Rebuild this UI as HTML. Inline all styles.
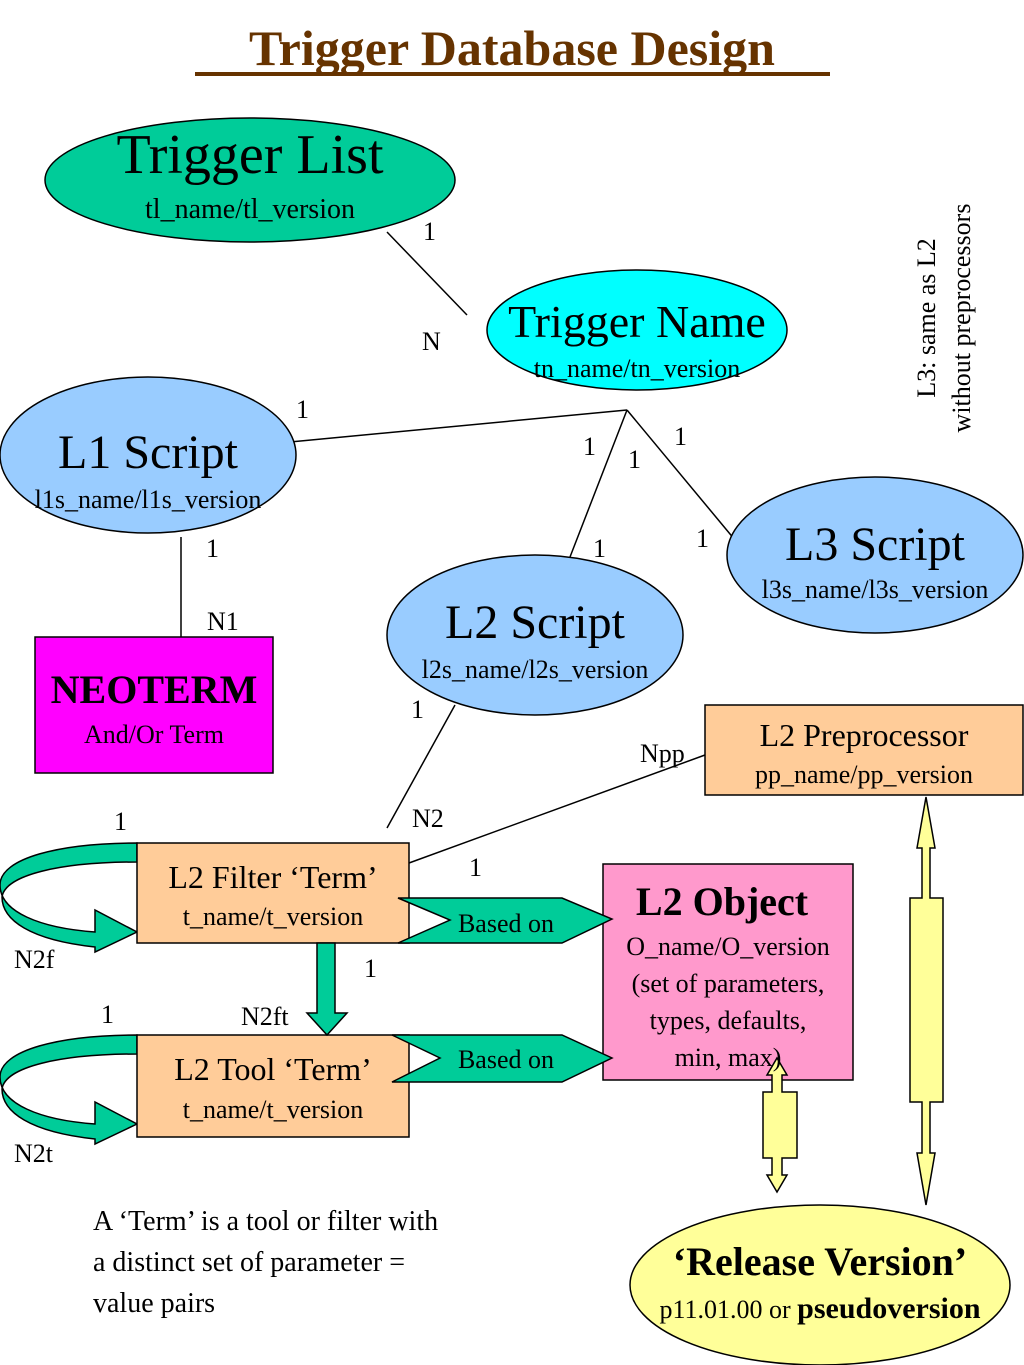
<!DOCTYPE html>
<html><head><meta charset="utf-8"><style>body{margin:0;background:#fff}svg{display:block}text{font-family:"Liberation Serif",serif}</style></head><body>
<svg width="1024" height="1365" viewBox="0 0 1024 1365" xmlns="http://www.w3.org/2000/svg">
<text x="512" y="65" font-size="50" font-weight="bold" fill="#663300" text-anchor="middle">Trigger Database Design</text>
<rect x="195" y="72" width="635" height="4" fill="#663300"/>
<g stroke="#000" stroke-width="1.5" fill="none">
<line x1="387" y1="232" x2="467" y2="315"/>
<line x1="627" y1="410" x2="290" y2="442"/>
<line x1="627" y1="410" x2="570" y2="557"/>
<line x1="627" y1="410" x2="735" y2="540"/>
<line x1="181" y1="537" x2="181" y2="637"/>
<line x1="455" y1="705" x2="387" y2="828"/>
<line x1="409" y1="863" x2="705" y2="755"/>
</g>
<g stroke="#000" stroke-width="1.5">
<ellipse cx="250" cy="180" rx="205" ry="62" fill="#00cc99"/>
<ellipse cx="637" cy="330" rx="150" ry="60" fill="#00ffff"/>
<ellipse cx="148" cy="455" rx="148" ry="78" fill="#99ccff"/>
<ellipse cx="875" cy="555" rx="148" ry="78" fill="#99ccff"/>
<ellipse cx="535" cy="635" rx="148" ry="80" fill="#99ccff"/>
<rect x="35" y="637" width="238" height="136" fill="#ff00ff"/>
<rect x="705" y="705" width="318" height="90" fill="#ffcc99"/>
<rect x="603" y="864" width="250" height="216" fill="#ff99cc"/>
<ellipse cx="820" cy="1285" rx="190" ry="80" fill="#ffff99"/>
<!-- curved loops -->
<path d="M137,843 C60,843 0,858 0,885 C0,912 40,928 95,932 L95,910 L137,932 L95,952 L95,947 C30,940 2,920 2,897 C5,875 60,862 137,862 Z" fill="#00cc99"/>
<path d="M137,1035 C60,1035 0,1050 0,1077 C0,1104 40,1120 95,1124 L95,1102 L137,1124 L95,1144 L95,1139 C30,1132 2,1112 2,1089 C5,1067 60,1054 137,1054 Z" fill="#00cc99"/>
<rect x="137" y="843" width="272" height="100" fill="#ffcc99"/>
<rect x="137" y="1035" width="272" height="102" fill="#ffcc99"/>
<polygon points="398,898 562,898 612,919 562,943 398,943 450,920" fill="#00cc99"/>
<polygon points="392,1035 562,1035 612,1058 562,1082 392,1082 440,1058" fill="#00cc99"/>
<polygon points="317,943 335,943 335,1013 347,1013 327,1035 307,1013 317,1013" fill="#00cc99"/>
<polygon points="777,1058 787,1075 782,1075 782,1092 797,1092 797,1158 782,1158 782,1175 787,1175 777,1192 767,1175 772,1175 772,1158 763,1158 763,1092 772,1092 772,1075 767,1075" fill="#ffff99"/>
<polygon points="926,797 935,848 930,848 930,898 943,898 943,1102 930,1102 930,1153 935,1153 926,1205 917,1153 922,1153 922,1102 910,1102 910,898 922,898 922,848 917,848" fill="#ffff99"/>
</g>
<g text-anchor="middle" fill="#000">
<text x="250" y="173" font-size="56">Trigger List</text>
<text x="250" y="218" font-size="28">tl_name/tl_version</text>
<text x="637" y="337" font-size="46">Trigger Name</text>
<text x="637" y="377" font-size="26">tn_name/tn_version</text>
<text x="148" y="468" font-size="48">L1 Script</text>
<text x="148" y="508" font-size="26">l1s_name/l1s_version</text>
<text x="875" y="560" font-size="48">L3 Script</text>
<text x="875" y="598" font-size="26">l3s_name/l3s_version</text>
<text x="535" y="638" font-size="48">L2 Script</text>
<text x="535" y="678" font-size="26">l2s_name/l2s_version</text>
<text x="154" y="703" font-size="40" font-weight="bold">NEOTERM</text>
<text x="154" y="743" font-size="26">And/Or Term</text>
<text x="864" y="746" font-size="32">L2 Preprocessor</text>
<text x="864" y="783" font-size="26">pp_name/pp_version</text>
<text x="273" y="888" font-size="32">L2 Filter ‘Term’</text>
<text x="273" y="925" font-size="26">t_name/t_version</text>
<text x="273" y="1080" font-size="32">L2 Tool ‘Term’</text>
<text x="273" y="1118" font-size="26">t_name/t_version</text>
<text x="506" y="932" font-size="26">Based on</text>
<text x="506" y="1068" font-size="26">Based on</text>
<text x="722" y="915" font-size="40" font-weight="bold">L2 Object</text>
<text x="728" y="955" font-size="26">O_name/O_version</text>
<text x="728" y="992" font-size="26">(set of parameters,</text>
<text x="728" y="1029" font-size="26">types, defaults,</text>
<text x="728" y="1066" font-size="26">min, max)</text>
<text x="820" y="1275" font-size="40" font-weight="bold">‘Release Version’</text>
<text x="820" y="1318" font-size="26">p11.01.00 or <tspan font-weight="bold" font-size="30">pseudoversion</tspan></text>
</g>
<g font-size="26" fill="#000">
<text x="423" y="240">1</text><text x="422" y="350">N</text><text x="296" y="418">1</text>
<text x="583" y="455">1</text><text x="628" y="468">1</text><text x="674" y="445">1</text>
<text x="206" y="557">1</text><text x="593" y="557">1</text><text x="696" y="547">1</text>
<text x="207" y="630">N1</text><text x="411" y="718">1</text><text x="640" y="762">Npp</text>
<text x="412" y="827">N2</text><text x="114" y="830">1</text><text x="469" y="876">1</text>
<text x="14" y="968">N2f</text><text x="364" y="977">1</text><text x="101" y="1023">1</text>
<text x="241" y="1025">N2ft</text><text x="14" y="1162">N2t</text>
</g>
<g font-size="28" fill="#000">
<text x="93" y="1230">A ‘Term’ is a tool or filter with</text>
<text x="93" y="1271">a distinct set of parameter =</text>
<text x="93" y="1312">value pairs</text>
</g>
<g font-size="26" fill="#000" text-anchor="middle">
<text transform="translate(935,318) rotate(-90)">L3: same as L2</text>
<text transform="translate(970,318) rotate(-90)">without preprocessors</text>
</g>
</svg>
</body></html>
